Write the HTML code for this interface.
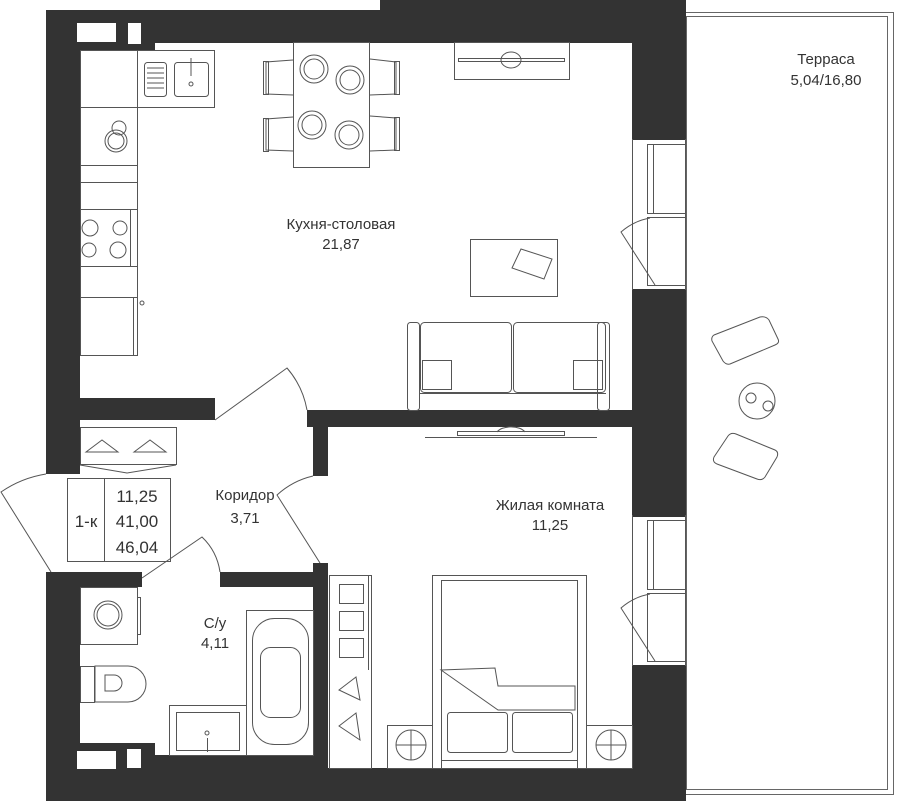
<!DOCTYPE html>
<html><head><meta charset="utf-8"><style>html,body{margin:0;padding:0;background:#fff}svg{display:block}text{font-family:"Liberation Sans",sans-serif;fill:#333}</style></head><body>
<svg width="900" height="801" viewBox="0 0 900 801" xmlns="http://www.w3.org/2000/svg">
<g fill="none" stroke="#666" stroke-width="1">
<rect x="685.5" y="12.5" width="208" height="782"/>
<rect x="686.5" y="16.5" width="201" height="773"/>
</g>
<g fill="#333">
<rect x="46" y="10" width="640" height="33"/>
<rect x="380" y="0" width="306" height="43"/>
<rect x="46" y="10" width="109" height="40"/>
<rect x="46" y="10" width="34" height="410"/>
<rect x="46" y="398" width="169" height="22"/>
<rect x="307" y="410" width="326" height="17"/>
<rect x="313" y="410" width="15" height="66"/>
<rect x="46" y="420" width="34" height="54"/>
<rect x="46" y="572" width="96" height="15"/>
<rect x="220" y="572" width="108" height="15"/>
<rect x="313" y="563" width="15" height="210"/>
<rect x="46" y="572" width="34" height="229"/>
<rect x="46" y="743" width="109" height="58"/>
<rect x="46" y="755" width="282" height="46"/>
<rect x="46" y="768" width="640" height="33"/>
<rect x="632" y="10" width="54" height="130"/>
<rect x="632" y="289" width="54" height="228"/>
<rect x="632" y="665" width="54" height="136"/>
</g>
<g fill="#fff">
<rect x="77" y="23" width="39" height="19"/><rect x="128" y="23" width="13" height="21"/>
<rect x="77" y="751" width="39" height="18"/><rect x="127" y="749" width="14" height="19"/>
</g>
<g fill="none" stroke="#555" stroke-width="1">
<line x1="632.5" y1="139" x2="632.5" y2="290"/><line x1="685.5" y1="139" x2="685.5" y2="290"/>
<rect x="647.5" y="144.5" width="38" height="69"/><line x1="653.5" y1="144" x2="653.5" y2="213"/>
<rect x="647.5" y="217.5" width="38" height="68"/>
<path d="M655 285 L621 232 A60 60 0 0 1 650 218"/>
<line x1="632.5" y1="515" x2="632.5" y2="666"/><line x1="685.5" y1="515" x2="685.5" y2="666"/>
<rect x="647.5" y="520.5" width="38" height="69"/><line x1="653.5" y1="520" x2="653.5" y2="589"/>
<rect x="647.5" y="593.5" width="38" height="68"/>
<path d="M655 661 L621 608 A60 60 0 0 1 650 594"/>
<rect x="80.5" y="50.5" width="57" height="305"/>
<line x1="80" y1="107.5" x2="137" y2="107.5"/><line x1="80" y1="165.5" x2="137" y2="165.5"/>
<line x1="80" y1="182.5" x2="137" y2="182.5"/><line x1="80" y1="209.5" x2="137" y2="209.5"/>
<line x1="80" y1="266.5" x2="137" y2="266.5"/><line x1="80" y1="297.5" x2="137" y2="297.5"/>
<line x1="130.5" y1="209" x2="130.5" y2="266"/><line x1="133.5" y1="297" x2="133.5" y2="355"/>
<circle cx="142" cy="303" r="2"/>
<rect x="137.5" y="50.5" width="77" height="57"/>
<rect x="144.5" y="62.5" width="22" height="34" rx="3"/>
<line x1="147" y1="68" x2="164" y2="68"/><line x1="147" y1="73" x2="164" y2="73"/><line x1="147" y1="78" x2="164" y2="78"/><line x1="147" y1="83" x2="164" y2="83"/><line x1="147" y1="88" x2="164" y2="88"/>
<rect x="174.5" y="62.5" width="34" height="34" rx="3"/><circle cx="191" cy="84" r="2"/><line x1="191" y1="58" x2="191" y2="76"/>
<circle cx="119" cy="128" r="7"/><circle cx="116" cy="141" r="11"/><circle cx="116" cy="141" r="8"/>
<circle cx="90" cy="228" r="8"/><circle cx="120" cy="228" r="7"/><circle cx="89" cy="250" r="7"/><circle cx="118" cy="250" r="8"/>
<rect x="293.5" y="42.5" width="76" height="125"/>
<path d="M293 60 L266 62 L266 94 L293 95"/><rect x="263.5" y="61.5" width="5" height="33"/>
<path d="M293 117 L266 119 L266 150 L293 151"/><rect x="263.5" y="118.5" width="5" height="33"/>
<path d="M370 59 L396 62 L396 94 L370 95"/><rect x="394.5" y="61.5" width="5" height="33"/>
<path d="M370 116 L396 118 L396 150 L370 151"/><rect x="394.5" y="117.5" width="5" height="33"/>
<circle cx="314" cy="69" r="14"/><circle cx="314" cy="69" r="10"/><circle cx="350" cy="80" r="14"/><circle cx="350" cy="80" r="10"/>
<circle cx="312" cy="125" r="14"/><circle cx="312" cy="125" r="10"/><circle cx="349" cy="135" r="14"/><circle cx="349" cy="135" r="10"/>
<rect x="454.5" y="42.5" width="115" height="37"/><rect x="458.5" y="58.5" width="106" height="3"/><ellipse cx="511" cy="60" rx="10" ry="8"/>
<rect x="470.5" y="239.5" width="87" height="57"/>
<path d="M512 268 L521 249 L552 259 L544 279 Z"/>
<rect x="407.5" y="322.5" width="12" height="88" rx="3"/><rect x="597.5" y="322.5" width="12" height="88" rx="3"/>
<rect x="420.5" y="322.5" width="91" height="70" rx="4"/><rect x="513.5" y="322.5" width="92" height="70" rx="4"/>
<line x1="420" y1="393.5" x2="606" y2="393.5"/>
<rect x="422.5" y="360.5" width="29" height="29"/><rect x="573.5" y="360.5" width="29" height="29"/>
<path d="M215 420 L287 368 A88 88 0 0 1 307 410"/>
<line x1="425" y1="437.5" x2="597" y2="437.5"/><rect x="457.5" y="431.5" width="107" height="4"/><path d="M497 432 A15 8 0 0 1 525 432"/>
<rect x="80.5" y="427.5" width="96" height="37"/><path d="M80 465 L127 473 L176 465"/>
<path d="M86 452 L102 440 L118 452 Z"/><path d="M134 452 L150 440 L166 452 Z"/>
<rect x="67.5" y="478.5" width="103" height="83"/><line x1="104.5" y1="478" x2="104.5" y2="561"/>
<path d="M51 572 L1 492 A110 110 0 0 1 46 474"/>
<path d="M142 578 L202 537 A60 60 0 0 1 220 572"/>
<path d="M320 563 L277 495 A80 80 0 0 1 313 476"/>
<rect x="80.5" y="587.5" width="57" height="57"/><circle cx="108" cy="615" r="14"/><circle cx="108" cy="615" r="11"/><rect x="137.5" y="597.5" width="3" height="37"/>
<rect x="80.5" y="666.5" width="14" height="36"/><path d="M95 666 L128 666 A18 18 0 0 1 128 702 L95 702 Z"/><path d="M105 675 L114 675 A8 8 0 0 1 114 691 L105 691 Z"/>
<rect x="246.5" y="610.5" width="67" height="145"/><rect x="252.5" y="618.5" width="56" height="126" rx="22"/><rect x="260.5" y="647.5" width="40" height="70" rx="10"/>
<rect x="169.5" y="705.5" width="77" height="50"/><rect x="176.5" y="712.5" width="63" height="38"/><line x1="207.5" y1="738" x2="207.5" y2="752"/><circle cx="207" cy="733" r="2"/>
<rect x="329.5" y="575.5" width="42" height="193"/><line x1="368.5" y1="575" x2="368.5" y2="670"/>
<rect x="339.5" y="584.5" width="24" height="19"/><rect x="339.5" y="611.5" width="24" height="19"/><rect x="339.5" y="638.5" width="24" height="19"/>
<path d="M339 690 L356 677 L360 700 Z"/><path d="M339 726 L356 713 L360 740 Z"/>
<rect x="432.5" y="575.5" width="154" height="193"/><rect x="441.5" y="580.5" width="136" height="188"/>
<path d="M441 670 L495 668 L498 686 L575 686 L575 710 L498 710 Z"/>
<rect x="447.5" y="712.5" width="60" height="40" rx="3"/><rect x="512.5" y="712.5" width="60" height="40" rx="3"/>
<line x1="441" y1="760.5" x2="577" y2="760.5"/>
<rect x="387.5" y="725.5" width="45" height="43"/><circle cx="411" cy="745" r="15"/><line x1="396" y1="745" x2="426" y2="745"/><line x1="411" y1="730" x2="411" y2="760"/>
<rect x="586.5" y="725.5" width="46" height="43"/><circle cx="611" cy="745" r="15"/><line x1="596" y1="745" x2="626" y2="745"/><line x1="611" y1="730" x2="611" y2="760"/>
<path d="M714 335 L760 317 Q766 316 769 320 L778 339 Q780 343 775 345 L730 364 Q726 365 723 361 L712 341 Q711 337 714 335 Z"/>
<path d="M714 457 L728 436 Q731 432 736 434 L775 450 Q779 452 777 457 L765 477 Q762 481 757 479 L717 464 Q712 462 714 457 Z"/>
<circle cx="757" cy="401" r="18"/><circle cx="751" cy="398" r="5"/><circle cx="768" cy="406" r="5"/>
</g>
<g font-size="15">
<text x="341" y="229" text-anchor="middle">Кухня-столовая</text>
<text x="341" y="249" text-anchor="middle">21,87</text>
<text x="245" y="500" text-anchor="middle">Коридор</text>
<text x="245" y="523" text-anchor="middle">3,71</text>
<text x="215" y="628" text-anchor="middle">С/у</text>
<text x="215" y="648" text-anchor="middle">4,11</text>
<text x="550" y="510" text-anchor="middle">Жилая комната</text>
<text x="550" y="530" text-anchor="middle">11,25</text>
<text x="826" y="64" text-anchor="middle">Терраса</text>
<text x="826" y="85" text-anchor="middle">5,04/16,80</text>
</g>
<g font-size="17">
<text x="86" y="527" text-anchor="middle">1-к</text>
<text x="137" y="502" text-anchor="middle">11,25</text>
<text x="137" y="527" text-anchor="middle">41,00</text>
<text x="137" y="553" text-anchor="middle">46,04</text>
</g>
</svg>
</body></html>
